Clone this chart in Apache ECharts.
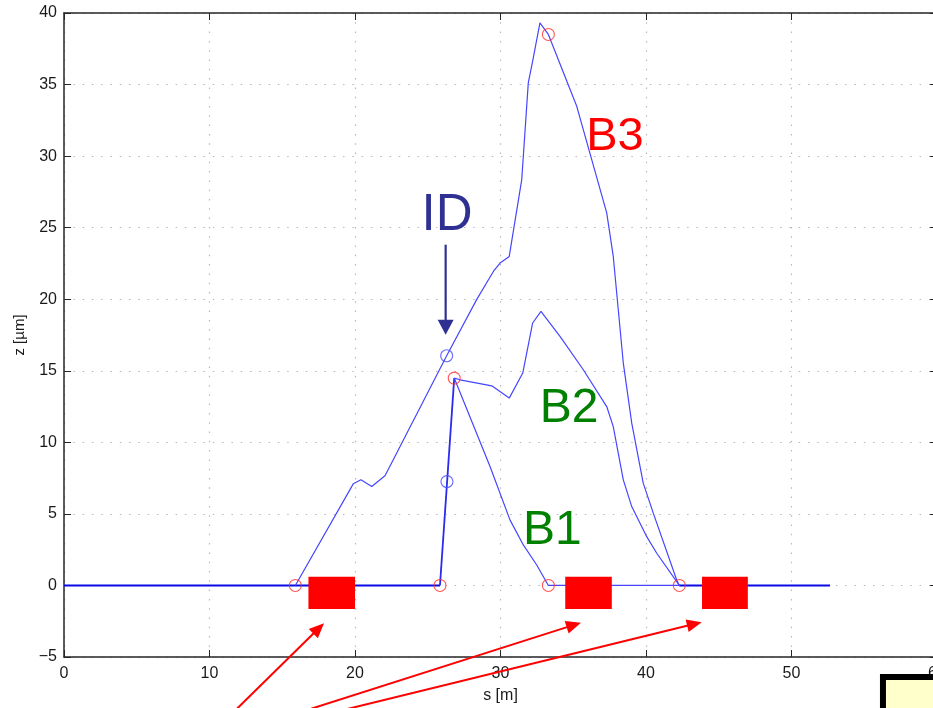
<!DOCTYPE html>
<html>
<head>
<meta charset="utf-8">
<script src="https://cdn.jsdelivr.net/npm/echarts@6/dist/echarts.min.js"></script>
<style>
html,body{margin:0;padding:0;background:#ffffff;}
#chart{width:933px;height:708px;}
</style>
</head>
<body>
<div id="chart"></div>
<script>
// ---------- axis settings ----------
const xMin = 0, xMax = 60, xStep = 10;
const yMin = -5, yMax = 40, yStep = 5;
const xAxisName = 's [m]';
const yAxisName = 'z [µm]';

// ---------- reference orbit (z = 0) ----------
const baseLeftS  = [0, 25.84];
const baseLeftZ  = [0, 0];
const baseMidS   = [33.29, 42.29];
const baseMidZ   = [0, 0];
const baseRightS = [42.29, 52.65];
const baseRightZ = [0, 0];

// ---------- ID kick ----------
const idS = [25.84, 26.82];
const idZ = [0, 14.49];

// ---------- B1 bump ----------
const b1S = [26.82, 29.28, 30.65, 31.57, 32.49, 33.29];
const b1Z = [14.49, 8.31, 4.58, 2.83, 1.43, 0];

// ---------- B2 bump ----------
const b2S = [26.82, 27.22, 29.40, 30.60, 31.53, 32.21, 32.78, 34.09, 35.69, 37.30, 37.75, 38.44, 39.02, 40.05, 40.74, 42.29];
const b2Z = [14.49, 14.37, 13.95, 13.09, 14.84, 18.34, 19.15, 17.40, 15.07, 12.50, 11.10, 7.38, 5.51, 3.41, 2.25, 0];

// ---------- B3 bump ----------
const b3S = [15.90, 19.88, 20.41, 21.15, 22.06, 22.63, 26.30, 28.36, 29.51, 29.97, 30.60, 31.46, 31.91, 32.21, 32.71, 33.29, 35.24, 37.30, 37.75, 38.44, 39.02, 39.81, 40.50, 42.11, 42.29];
const b3Z = [0, 7.10, 7.38, 6.91, 7.66, 8.78, 16.05, 19.97, 21.94, 22.53, 22.99, 28.36, 35.12, 36.63, 39.31, 38.50, 33.48, 26.03, 22.99, 15.54, 11.34, 7.15, 5.05, 0.38, 0];

// ---------- markers ----------
const redMarkS  = [15.90, 25.84, 26.82, 33.29, 33.29, 42.29];
const redMarkZ  = [0, 0, 14.49, 0, 38.50, 0];
const blueMarkS = [26.30, 26.32];
const blueMarkZ = [16.05, 7.26];

// ---------- magnets (red blocks) ----------
const magnetStart = [16.80, 34.45, 43.85];
const magnetEnd   = [20.00, 37.65, 47.00];
const magnetTop    = 0.6;
const magnetBottom = -1.65;

// ---------- red arrows (tail -> tip) ----------
const arrowTailS = [11.50, 15.80, 18.00];
const arrowTailZ = [-9.0, -9.0, -9.0];
const arrowTipS  = [17.87, 35.53, 43.83];
const arrowTipZ  = [-2.64, -2.60, -2.57];

// ---------- ID arrow ----------
const idArrowS = 26.23;
const idArrowTopZ = 23.81;
const idArrowTipZ = 17.52;

// ---------- text labels ----------
const labelText = ['ID', 'B3', 'B2', 'B1'];
const labelS    = [26.32, 37.87, 34.71, 33.57];
const labelZ    = [25.80, 31.34, 12.34, 3.81];

// ---------- corner box (partially visible) ----------
const boxS = 56.08;
const boxZ = -6.19;

// ---------- styles ----------
const FONT = "'Liberation Sans', Arial, Helvetica, sans-serif";
const labelColor = ['#2e3192', '#ff0000', '#008000', '#008000'];
const labelSize  = [51, 47, 48, 48];
const thinBlue = '#4646ff';
const thickBlue = '#0a0ae6';

function pairs(s, z) { return s.map((v, i) => [v, z[i]]); }
function minusFmt(v) { return String(v).replace('-', '\u2212'); }

const chart = echarts.init(document.getElementById('chart'), null, {renderer: 'canvas'});

const gridLine = {show: true, lineStyle: {color: '#b8b8b8', width: 1.2, type: [1.5, 7.8]}};
const axisLn = {show: true, onZero: false, lineStyle: {color: '#262626', width: 1.5}};
const tick = {show: true, inside: true, length: 7, lineStyle: {color: '#262626', width: 1}};

function lineSeries(s, z, color, width) {
  return {
    type: 'line', data: pairs(s, z), symbol: 'none', silent: true, animation: false,
    lineStyle: {color: color, width: width}, z: 3
  };
}

const option = {
  animation: false,
  backgroundColor: '#ffffff',
  grid: {left: 64, top: 13, width: 873, height: 644, containLabel: false, outerBoundsMode: 'none'},
  xAxis: [
    {
      type: 'value', min: xMin, max: xMax, interval: xStep, position: 'bottom',
      axisLine: axisLn, axisTick: tick, splitLine: gridLine,
      axisLabel: {color: '#1a1a1a', fontSize: 16, fontFamily: FONT, margin: 9, formatter: minusFmt},
      name: xAxisName, nameLocation: 'middle', nameGap: 31,
      nameTextStyle: {color: '#1a1a1a', fontSize: 16, fontFamily: FONT}
    },
    {
      type: 'value', min: xMin, max: xMax, interval: xStep, position: 'top',
      axisLine: axisLn, axisTick: tick, splitLine: {show: false}, axisLabel: {show: false}
    }
  ],
  yAxis: [
    {
      type: 'value', min: yMin, max: yMax, interval: yStep, position: 'left',
      axisLine: axisLn, axisTick: tick, splitLine: gridLine,
      axisLabel: {color: '#1a1a1a', fontSize: 16, fontFamily: FONT, margin: 7, formatter: minusFmt},
      name: yAxisName, nameLocation: 'middle', nameGap: 37, nameRotate: 90,
      nameTextStyle: {color: '#1a1a1a', fontSize: 15, fontFamily: FONT}
    },
    {
      type: 'value', min: yMin, max: yMax, interval: yStep, position: 'right',
      axisLine: axisLn, axisTick: tick, splitLine: {show: false}, axisLabel: {show: false}
    }
  ],
  series: [
    lineSeries(baseLeftS, baseLeftZ, thickBlue, 2),
    lineSeries(baseMidS, baseMidZ, thinBlue, 1.3),
    lineSeries(baseRightS, baseRightZ, thickBlue, 2),
    lineSeries(idS, idZ, '#2a2af0', 1.8),
    lineSeries(b1S, b1Z, thinBlue, 1.2),
    lineSeries(b2S, b2Z, thinBlue, 1.2),
    lineSeries(b3S, b3Z, thinBlue, 1.2),
    {
      type: 'scatter', data: pairs(redMarkS, redMarkZ), symbol: 'circle', symbolSize: 12,
      itemStyle: {color: 'rgba(0,0,0,0)', borderColor: '#ff2a2a', borderWidth: 1.1},
      silent: true, z: 5
    },
    {
      type: 'scatter', data: pairs(blueMarkS, blueMarkZ), symbol: 'circle', symbolSize: 12,
      itemStyle: {color: 'rgba(0,0,0,0)', borderColor: '#4a4aff', borderWidth: 1.2},
      silent: true, z: 5
    },
    {
      // magnets
      type: 'custom', silent: true, z: 6, clip: false,
      encode: {x: [0, 1], y: [2, 3]},
      data: magnetStart.map((s, i) => [s, magnetEnd[i], magnetTop, magnetBottom]),
      renderItem: function (params, api) {
        const p1 = api.coord([api.value(0), api.value(2)]);
        const p2 = api.coord([api.value(1), api.value(3)]);
        return {type: 'rect', shape: {x: p1[0], y: p1[1], width: p2[0] - p1[0], height: p2[1] - p1[1]},
          style: {fill: '#ff0000'}};
      }
    },
    {
      // red arrows
      type: 'custom', silent: true, z: 7, clip: false,
      encode: {x: [0, 2], y: [1, 3]},
      data: arrowTailS.map((s, i) => [s, arrowTailZ[i], arrowTipS[i], arrowTipZ[i]]),
      renderItem: function (params, api) {
        return arrowShape(api, '#ff0000', 2, 15, 6.5);
      }
    },
    {
      // ID arrow
      type: 'custom', silent: true, z: 7, clip: false,
      encode: {x: [0, 2], y: [1, 3]},
      data: [[idArrowS, idArrowTopZ, idArrowS, idArrowTipZ]],
      renderItem: function (params, api) {
        return arrowShape(api, '#2e3192', 2.2, 15, 8);
      }
    },
    {
      // text labels
      type: 'custom', silent: true, z: 8, clip: false,
      encode: {x: 0, y: 1},
      data: labelS.map((s, i) => [s, labelZ[i]]),
      renderItem: function (params, api) {
        const p = api.coord([api.value(0), api.value(1)]);
        const i = params.dataIndex;
        return {type: 'text', x: p[0], y: p[1],
          style: {text: labelText[i], fill: labelColor[i], fontSize: labelSize[i], fontFamily: FONT,
            align: 'center', verticalAlign: 'middle'}};
      }
    },
    {
      // corner box
      type: 'custom', silent: true, z: 9, clip: false,
      encode: {x: 0, y: 1},
      data: [[boxS, boxZ]],
      renderItem: function (params, api) {
        const p = api.coord([api.value(0), api.value(1)]);
        return {type: 'group', children: [
          {type: 'rect', shape: {x: p[0], y: p[1], width: 300, height: 300}, style: {fill: '#000000'}},
          {type: 'rect', shape: {x: p[0] + 6, y: p[1] + 6, width: 300, height: 300}, style: {fill: '#ffffcc'}}
        ]};
      }
    }
  ]
};

function arrowShape(api, color, lw, hl, hw) {
  const p1 = api.coord([api.value(0), api.value(1)]);
  const p2 = api.coord([api.value(2), api.value(3)]);
  const dx = p2[0] - p1[0], dy = p2[1] - p1[1];
  const L = Math.sqrt(dx * dx + dy * dy);
  const ux = dx / L, uy = dy / L;
  const bx = p2[0] - ux * hl, by = p2[1] - uy * hl;
  return {type: 'group', children: [
    {type: 'line', shape: {x1: p1[0], y1: p1[1], x2: bx + ux * 2, y2: by + uy * 2},
      style: {stroke: color, lineWidth: lw}},
    {type: 'polygon', shape: {points: [[p2[0], p2[1]], [bx - uy * hw, by + ux * hw], [bx + uy * hw, by - ux * hw]]},
      style: {fill: color}}
  ]};
}

chart.setOption(option);
</script>
</body>
</html>
